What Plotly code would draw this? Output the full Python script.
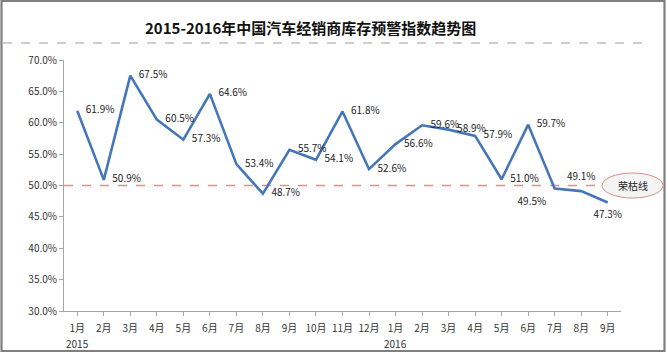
import plotly.graph_objects as go

months = ["1月", "2月", "3月", "4月", "5月", "6月", "7月", "8月", "9月", "10月", "11月", "12月",
          "1月", "2月", "3月", "4月", "5月", "6月", "7月", "8月", "9月"]
years = ["2015", "", "", "", "", "", "", "", "", "", "", "",
         "2016", "", "", "", "", "", "", "", ""]
values = [61.9, 50.9, 67.5, 60.5, 57.3, 64.6, 53.4, 48.7, 55.7, 54.1, 61.8, 52.6,
          56.6, 59.6, 58.9, 57.9, 51.0, 59.7, 49.5, 49.1, 47.3]
threshold = 50.0
threshold_label = "荣枯线"
title = "2015-2016年中国汽车经销商库存预警指数趋势图"

W, H = 668, 356
L, R, T, B = 64, 47, 60, 45
pw, ph = W - L - R, H - T - B

def px(x):
    return (x - L) / pw

def py(y):
    return (H - B - y) / ph

xs = list(range(len(values)))
positions = ["middle right"] * len(values)
positions[18] = "bottom left"
positions[19] = "top center"
positions[20] = "bottom center"

font = "Noto Sans CJK SC, Liberation Sans, sans-serif"

fig = go.Figure()
fig.add_trace(go.Scatter(
    x=[-0.5, len(values) - 0.5], y=[threshold, threshold], mode="lines",
    line=dict(color="#E38C8C", width=1.3, dash="dash"),
    hoverinfo="skip",
))
fig.add_trace(go.Scatter(
    x=xs, y=values, mode="lines+markers+text",
    line=dict(color="#4577B8", width=2.6),
    marker=dict(size=12, opacity=0),
    text=[f"{v:.1f}%" for v in values],
    textposition=positions,
    textfont=dict(size=10, color="#222", family=font),
    cliponaxis=False, hoverinfo="skip",
))

shapes = [
    dict(type="rect", xref="paper", yref="paper", x0=px(1.5), x1=px(664.5), y0=py(351), y1=py(1),
         line=dict(color="#7F7F7F", width=2.2), layer="below"),
    dict(type="line", xref="paper", yref="paper", x0=px(3), x1=px(645), y0=py(43), y1=py(43),
         line=dict(color="#BFBFBF", width=1.3, dash="dash")),
    dict(type="circle", xref="paper", yref="paper", x0=px(602), x1=px(663), y0=py(198), y1=py(173),
         line=dict(color="#D98C8C", width=1), fillcolor="#F4F4F4"),
]

annotations = [
    dict(text=f"<b>{title}</b>", xref="paper", yref="paper", x=px(310), y=py(28),
         xanchor="center", yanchor="middle",
         showarrow=False, font=dict(size=15, color="#111", family=font)),
    dict(text=threshold_label, xref="paper", yref="paper", x=px(632.5), y=py(185.5),
         xanchor="center", yanchor="middle",
         showarrow=False, font=dict(size=10, color="#222", family=font)),
]
for i, yr in enumerate(years):
    if yr:
        annotations.append(dict(text=yr, xref="x", yref="paper", x=i, y=py(344),
                                xanchor="center", yanchor="middle", showarrow=False,
                                font=dict(size=10, color="#333", family=font)))

fig.update_layout(
    width=W, height=H,
    margin=dict(l=L, r=R, t=T, b=B, autoexpand=False),
    paper_bgcolor="white", plot_bgcolor="white",
    showlegend=False,
    shapes=shapes, annotations=annotations,
    xaxis=dict(
        range=[-0.5, len(values) - 0.5],
        tickmode="array", tickvals=xs, ticktext=months,
        showgrid=False, zeroline=False,
        showline=True, linecolor="#A6A6A6", linewidth=1,
        ticks="outside", ticklen=4, tickcolor="#A6A6A6",
        ticklabelstandoff=4,
        tickfont=dict(size=10, color="#333", family=font),
        fixedrange=True,
    ),
    yaxis=dict(
        range=[30, 70], dtick=5, tickformat=".1f", ticksuffix="%",
        showgrid=False, zeroline=False,
        showline=True, linecolor="#A6A6A6", linewidth=1,
        ticks="outside", ticklen=4, tickcolor="#A6A6A6",
        tickfont=dict(size=10, color="#333", family=font),
        fixedrange=True,
    ),
)
fig.update_xaxes(tickson="boundaries")

fig.write_html("out.html", config={"displayModeBar": False},
               post_script="document.body.style.margin='0';")
